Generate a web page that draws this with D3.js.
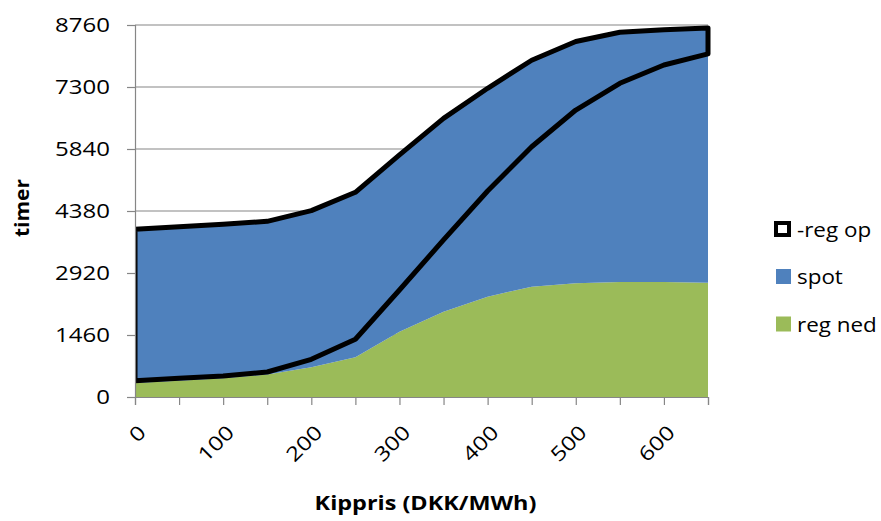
<!DOCTYPE html>
<html><head><meta charset="utf-8">
<script src="https://cdn.jsdelivr.net/npm/d3@7"></script>
<style>body{margin:0;background:#fff} text{font-family:"Open Sans",sans-serif;fill:#000}</style>
</head><body><svg id="c" width="881" height="521"></svg>
<script>
// ---- data ----
const prices   = [0, 50, 100, 150, 200, 250, 300, 350, 400, 450, 500, 550, 600, 650];
const regNed   = [330, 385, 440, 530, 700, 935, 1535, 2010, 2362, 2598, 2677, 2708, 2708, 2692];
const spot     = [3620, 3625, 3626, 3607, 3690, 3885, 4165, 4550, 4908, 5332, 5693, 5882, 5942, 5998];
const negRegOp = [-3570, -3570, -3571, -3548, -3502, -3461, -3180, -2860, -2420, -2036, -1612, -1203, -832, -610];
const yTicks   = [0, 1460, 2920, 4380, 5840, 7300, 8760];
const xTickLabels = [0, 100, 200, 300, 400, 500, 600];
const seriesNames = ["reg ned", "spot", "-reg op"];
const legendNames = ["-reg op", "spot", "reg ned"];
const xTitle = "Kippris (DKK/MWh)";
const yTitle = "timer";

// ---- layout ----
const svg = d3.select("#c");
const L = 135, R = 708, T = 25, B = 397;
const x = d3.scaleLinear().domain([0, 650]).range([L, R]);
const y = d3.scaleLinear().domain([0, 8760]).range([B, T]);
const grey = "#868686";
const colors = {"reg ned": "#9BBB59", "spot": "#4F81BD"};

function stretch(sel, f) {
  sel.each(function () {
    const w = this.getComputedTextLength();
    if (w > 0) d3.select(this).attr("textLength", w * f).attr("lengthAdjust", "spacingAndGlyphs");
  });
}

// gridlines
svg.append("g").selectAll("line").data(yTicks.filter(d => d > 0)).join("line")
  .attr("x1", L).attr("x2", R).attr("y1", d => y(d)).attr("y2", d => y(d))
  .attr("stroke", grey).attr("stroke-width", 1.2);

// stacked data
const rows = prices.map((p, i) => ({price: p, "reg ned": regNed[i], "spot": spot[i], "-reg op": negRegOp[i]}));
const stacked = d3.stack().keys(seriesNames).offset(d3.stackOffsetNone)(rows);
const area = d3.area().x(d => x(d.data.price)).y0(d => y(d[0])).y1(d => y(d[1]));

svg.append("defs").append("clipPath").attr("id", "clip")
  .append("rect").attr("x", L).attr("y", 0).attr("width", R - L + 10).attr("height", B + 5);

stacked.forEach(s => {
  if (s.key === "-reg op") {
    svg.append("path").attr("d", area(s)).attr("fill", "none")
      .attr("stroke", "#000").attr("stroke-width", 5).attr("stroke-linejoin", "round")
      .attr("clip-path", "url(#clip)");
  } else {
    svg.append("path").attr("d", area(s)).attr("fill", colors[s.key]);
  }
});

// y axis
const yAxis = d3.axisLeft(y).tickValues(yTicks).tickSize(8).tickPadding(17).tickFormat(d3.format("d"));
const gy = svg.append("g").attr("transform", `translate(${L},0)`).call(yAxis);
gy.select(".domain").attr("stroke", grey).attr("stroke-width", 1.2);
gy.selectAll(".tick line").attr("stroke", grey).attr("stroke-width", 1.2);
gy.selectAll(".tick text").attr("font-size", 20).attr("font-family", "Open Sans").attr("fill", "#000");
stretch(gy.selectAll(".tick text"), 1.2);

// x axis
const xAxis = d3.axisBottom(x).tickValues(prices).tickSize(8).tickFormat(d => xTickLabels.includes(d) ? d : "");
const gx = svg.append("g").attr("transform", `translate(0,${B})`).call(xAxis);
gx.select(".domain").attr("stroke", grey).attr("stroke-width", 1.2);
gx.selectAll(".tick line").attr("stroke", grey).attr("stroke-width", 1.2);
gx.selectAll(".tick text").attr("font-size", 20).attr("font-family", "Open Sans").attr("fill", "#000")
  .attr("text-anchor", "end").attr("dy", null).attr("y", 0)
  .attr("transform", "translate(8,33) rotate(-45)")
  .attr("dominant-baseline", "middle");
stretch(gx.selectAll(".tick text"), 1.2);

// titles
const xt = svg.append("text").attr("x", (L + R) / 2 + 4).attr("y", 510).attr("text-anchor", "middle")
  .attr("font-size", 20).attr("font-weight", "bold").text(xTitle);
stretch(xt, 1.17);
const yt = svg.append("text").attr("transform", "translate(29,208) rotate(-90)").attr("text-anchor", "middle")
  .attr("font-size", 20).attr("font-weight", "bold").text(yTitle);
stretch(yt, 1.05);

// legend
const lg = svg.append("g");
legendNames.forEach((n, i) => {
  const cy = 229 + i * 47.5;
  if (n === "-reg op") {
    lg.append("rect").attr("x", 776).attr("y", cy - 6).attr("width", 13).attr("height", 12)
      .attr("fill", "#fff").attr("stroke", "#000").attr("stroke-width", 4);
  } else {
    lg.append("rect").attr("x", 776).attr("y", cy - 7.5).attr("width", 15).attr("height", 15)
      .attr("fill", colors[n]);
  }
  const t = lg.append("text").attr("x", 797).attr("y", cy).attr("dominant-baseline", "central")
    .attr("font-size", 20).text(n);
  stretch(t, 1.12);
});
</script></body></html>
